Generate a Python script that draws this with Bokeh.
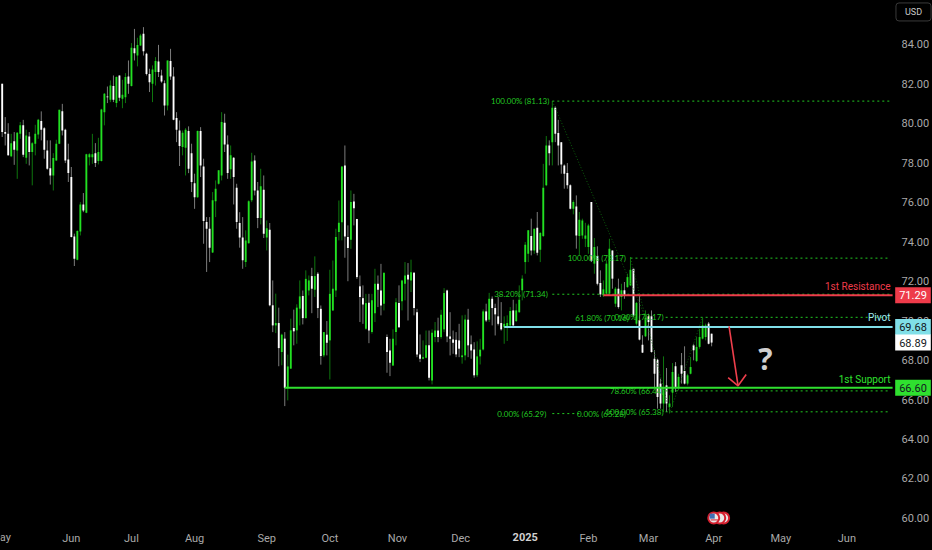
from bokeh.plotting import figure
from bokeh.models import ColumnDataSource, FixedTicker, Label, NumeralTickFormatter
from bokeh.core.properties import value
from bokeh.embed import file_html
from bokeh.resources import INLINE

open_prices = [82.01,79.56,79.47,78.33,79.09,78.63,79.47,79.9,78.26,79.34,
78.55,78.97,79.44,80.12,79.76,78.63,77.73,77.36,78.12,78.97,
80.61,79.68,78.17,77.28,74.27,73.09,74.52,75.89,75.47,78.29,
78.29,78.49,78.09,78.09,80.57,81.37,81.2,81.89,81.03,82.43,
81.25,81.33,82.38,81.89,83.81,83.44,83.95,84.54,83.53,82.51,
82.01,82.6,83.14,82.43,82.04,80.91,83.16,82.38,80.28,79.64,
78.8,78.76,79.61,78.49,76.97,76.26,79.61,77.82,75.0,74.66,
73.45,76.05,76.94,77.36,80.03,78.93,77.67,78.26,76.74,74.95,
74.21,72.97,73.93,76.1,78.12,76.6,75.2,76.64,74.21,74.61,
70.78,69.76,69.88,68.41,69.09,66.6,67.57,69.63,69.51,70.61,
71.25,70.13,71.53,72.26,71.57,72.38,70.6,68.24,69.29,69.0,
70.52,71.53,74.49,74.99,77.87,74.24,74.1,76.04,75.16,71.74,
71.14,69.59,70.91,69.42,70.38,71.87,71.53,70.86,69.17,68.49,
67.73,69.42,70.89,70.99,71.87,72.33,72.04,72.43,70.43,68.29,
68.07,68.12,68.75,66.97,69.17,69.5,69.17,69.56,71.53,69.2,
69.05,69.03,69.0,68.15,68.24,70.05,68.8,68.54,67.23,68.19,
68.54,70.47,70.05,71.11,70.64,70.22,69.88,69.67,69.67,69.76,
70.52,69.98,70.43,71.54,72.97,73.39,74.29,73.56,74.71,73.6,
74.29,76.86,78.88,79.05,80.79,79.51,79.05,77.87,77.48,76.86,
75.67,75.79,74.29,74.32,74.15,73.73,76.01,72.89,73.28,71.91,
71.28,71.37,71.37,73.56,70.86,71.62,71.2,71.54,71.7,71.79,
72.63,69.85,70.02,68.78,69.21,70.22,70.22,68.07,68.02,66.81,
65.8,66.72,65.63,66.35,67.69,66.64,67.74,67.45,66.81,67.31,
68.75,67.96,68.67,69.09,69.17,69.85,69.34]

close_prices = [79.56,79.47,78.38,79.0,78.66,79.52,79.9,78.41,79.39,78.55,
79.0,79.47,80.18,79.68,78.66,77.7,77.36,78.24,78.97,80.69,
79.64,78.12,77.48,74.24,73.14,74.54,75.89,75.59,78.43,78.43,
78.43,77.99,78.55,80.71,81.5,81.33,81.92,81.2,82.35,81.3,
81.45,82.35,82.01,83.83,83.56,83.98,84.46,83.66,82.51,82.09,
82.73,83.16,82.6,82.13,80.91,83.19,82.38,80.18,79.68,78.85,
79.52,79.68,77.7,77.03,76.26,79.61,77.87,75.05,74.66,73.7,
76.1,76.69,77.62,80.07,78.93,77.48,78.38,77.28,75.0,74.21,
73.06,74.07,76.05,78.07,76.6,75.2,76.82,74.41,74.69,70.78,
69.76,69.88,68.61,69.29,66.6,67.68,69.51,69.46,70.66,71.23,
70.13,72.12,72.04,71.62,72.26,70.64,68.21,69.42,68.88,71.36,
71.62,74.24,74.96,77.82,74.27,73.69,76.01,75.7,72.21,71.2,
70.82,70.89,69.5,71.03,71.87,71.57,70.77,72.43,68.41,67.87,
69.08,70.94,69.67,72.04,72.29,72.09,72.46,70.64,68.29,68.07,
68.15,68.75,67.11,69.39,69.5,69.17,70.3,71.4,69.2,69.08,
68.88,68.29,68.58,68.24,70.06,68.75,68.49,67.23,68.19,68.53,
70.47,70.01,71.11,70.64,70.32,69.84,69.56,69.84,69.88,70.49,
69.76,70.52,71.06,72.13,73.85,74.58,73.56,74.66,73.44,74.44,
76.74,78.88,78.49,80.79,79.47,78.88,77.92,77.45,76.86,75.67,
76.01,74.32,75.12,75.08,74.32,74.83,73.02,73.73,71.87,71.33,
71.59,72.89,73.65,72.13,71.62,70.69,71.54,71.28,72.21,72.58,
70.27,70.9,69.04,68.38,70.15,69.93,68.41,67.31,66.13,65.8,
66.64,65.8,65.8,67.4,66.64,67.15,67.31,66.81,67.23,67.65,
68.5,68.67,69.17,69.76,69.76,68.83,68.89]

high_prices = [82.01,80.32,80.01,79.47,79.56,79.56,80.07,80.18,79.68,79.56,
79.05,79.93,80.23,80.61,79.81,79.14,79.14,78.49,79.17,80.69,
80.99,79.73,78.97,77.79,74.41,74.58,76.01,76.47,78.46,78.49,
79.47,79.0,79.27,80.74,81.54,81.87,82.18,82.43,82.38,82.43,
82.21,82.55,83.19,84.07,84.79,84.34,84.54,84.88,83.58,82.77,
82.94,83.36,83.98,82.72,82.18,83.19,83.78,82.85,80.57,80.15,
79.64,79.76,79.85,78.97,77.45,79.64,79.81,78.21,75.25,75.25,
76.52,77.11,77.62,80.57,80.49,79.39,78.88,78.29,76.94,75.5,
75.25,74.58,76.1,78.51,78.38,77.03,77.7,77.36,75.08,74.95,
72.04,71.37,70.66,69.34,69.42,68.28,70.1,70.56,70.83,72.04,
71.53,72.55,72.29,72.68,73.26,72.46,70.77,69.42,69.98,72.58,
73.05,74.66,76.09,77.82,78.88,74.83,76.6,76.43,75.16,72.29,
71.79,71.36,71.36,71.36,72.63,72.29,72.88,72.43,69.3,69.08,
69.56,71.14,71.79,72.07,72.97,72.92,73.09,72.46,70.6,69.3,
69.0,69.5,69.5,69.56,69.93,70.15,70.55,71.65,71.57,70.43,
69.5,69.42,69.84,70.27,70.3,70.6,69.25,68.91,68.95,69.08,
70.57,70.86,71.41,71.23,70.86,71.2,70.94,70.22,70.27,70.69,
71.06,70.86,71.79,72.3,73.99,74.58,75.17,74.66,75.51,74.49,
77.95,79.36,79.14,81.13,80.86,80.18,79.05,77.92,77.99,76.91,
76.1,76.35,75.51,75.17,74.96,74.91,76.01,74.19,73.77,72.55,
72.04,73.06,74.15,73.56,71.7,72.13,71.87,71.96,72.38,73.23,
72.63,70.95,71.28,69.26,70.52,70.35,70.52,68.5,68.07,67.06,
68.19,67.6,66.22,67.85,67.9,67.31,68.36,68.7,67.31,68.16,
68.83,69.17,69.59,70.15,69.85,69.93,69.34]

low_prices = [79.31,78.88,78.36,78.29,77.9,77.19,79.22,78.29,77.95,77.87,
76.86,78.38,79.22,79.14,78.21,77.65,76.9,76.6,78.1,78.95,
79.39,77.99,77.03,74.22,72.77,73.06,74.32,75.5,75.45,77.87,
77.95,77.79,77.92,78.07,79.9,81.03,81.08,81.08,80.82,81.13,
80.77,81.03,81.5,81.87,83.19,82.89,83.93,83.44,82.43,81.59,
81.08,81.92,82.35,82.06,80.4,80.66,82.21,80.16,79.05,77.84,
78.38,77.36,77.48,76.52,75.67,76.23,77.28,73.9,72.47,72.97,
73.43,75.25,76.9,77.11,78.55,77.19,77.19,75.89,74.66,73.7,
72.63,72.72,73.91,76.01,76.35,74.69,74.88,74.19,73.56,70.73,
69.42,69.37,67.69,67.74,65.67,65.96,67.55,68.75,68.83,69.76,
69.81,70.11,71.28,70.38,71.2,70.13,67.77,68.15,68.24,67.02,
70.49,71.2,74.07,74.07,73.19,72.0,73.64,74.83,72.12,69.93,
69.84,69.54,68.86,69.34,69.93,70.69,70.27,70.52,67.36,67.19,
67.7,68.75,69.64,70.52,71.03,70.01,71.45,70.27,68.15,67.9,
68.04,68.09,66.97,66.77,68.91,68.91,69.08,69.42,68.91,68.24,
68.32,68.15,68.15,67.82,67.99,68.15,68.07,67.11,67.14,67.78,
68.49,69.93,69.93,69.76,69.25,69.76,69.5,68.83,68.97,69.73,
69.67,69.93,70.4,71.03,72.38,72.97,73.31,73.39,73.31,72.97,
74.24,76.82,77.87,77.87,79.05,77.87,77.45,76.69,76.69,75.64,
75.39,73.65,73.31,74.15,73.73,73.39,72.97,72.38,71.79,71.2,
71.2,71.28,71.28,71.62,70.69,70.61,70.52,71.11,71.67,71.76,
70.19,69.76,69.0,68.36,69.17,69.0,68.38,66.64,65.54,65.54,
65.37,65.37,65.32,65.63,66.39,66.47,66.81,66.77,66.72,67.28,
67.99,67.9,68.58,69.05,69.0,68.8,68.7]

month_ticks = [23, 43, 64, 88, 109, 131.5, 152.5, 174, 195, 215, 236.7, 259, 281]
month_labels = ["Jun", "Jul", "Aug", "Sep", "Oct", "Nov", "Dec", "2025", "Feb", "Mar", "Apr", "May", "Jun"]
price_ticks = [60, 62, 64, 66, 68, 70, 72, 74, 76, 78, 80, 82, 84]

fib_level_prices = [81.13, 71.34, 73.17, 70.17, 66.44, 65.38, 65.29]
fib_level_starts = [183, 183, 209, 220.7, 220.7, 220.7, 183]
fib_level_ends = [295.5, 295.5, 295.5, 295.5, 295.5, 295.5, 193]

fib_text = ["100.00% (81.13)", "38.20% (71.34)", "100.00% (73.17)", "61.80% (70.16)", "0.00% (70.17)",
            "78.60% (66.44)", "100.00% (65.38)", "0.00% (65.29)", "0.00% (65.28)"]
fib_text_x = [182, 181.5, 207.5, 208.5, 220, 220, 220, 181, 207.5]
fib_text_y = [81.13, 71.34, 73.17, 70.16, 70.17, 66.44, 65.38, 65.29, 65.28]

trend_x = [[183, 214], [209, 222], [222, 233]]
trend_y = [[81.13, 70.17], [73.17, 65.38], [65.29, 70.17]]

resistance, pivot, support, last_price = 71.29, 69.68, 66.60, 68.89
resistance_start, pivot_start, support_start, zone_end = 200, 167, 94, 296.2

arrow_x = [[241.8, 244.8], [241.5, 244.8, 247.5]]
arrow_y = [[69.71, 66.70], [67.11, 66.70, 67.27]]

flag_x = [240, 238.7, 236.7]
flag_price = 60.0

UI = "Roboto"
GREEN, WHITE = "#22e022", "#ffffff"
FIB = "#22c822"

p = figure(width=932, height=550, output_backend="svg", toolbar_location=None,
           x_range=(-0.566, 309.48), y_range=(58.35, 86.23), y_axis_location="right",
           background_fill_color="#000000", border_fill_color="#000000",
           outline_line_color=None, min_border_left=0, min_border_top=0,
           min_border_right=0, min_border_bottom=0)
p.grid.visible = False

xa = p.xaxis[0]
xa.ticker = FixedTicker(ticks=month_ticks)
overrides = {t: l for t, l in zip(month_ticks, month_labels)}
overrides[174] = ""
xa.major_label_overrides = overrides
xa.fixed_location = 59.51
ya = p.yaxis[0]
ya.ticker = FixedTicker(ticks=price_ticks)
ya.formatter = NumeralTickFormatter(format="0.00")
ya.fixed_location = 296.2
for ax in (xa, ya):
    ax.axis_line_color = None
    ax.major_tick_line_color = None
    ax.minor_tick_line_color = None
    ax.major_tick_out = 0
    ax.major_tick_in = 0
    ax.minor_tick_out = 0
    ax.major_label_text_color = "#a9a9a9"
    ax.major_label_text_font = UI
    ax.major_label_text_font_size = "11px"
xa.major_label_standoff = 4
ya.major_label_standoff = 9

bars = list(range(len(open_prices)))
assert len(open_prices) == len(close_prices) == len(high_prices) == len(low_prices)
for up, body_c, wick_c in ((False, WHITE, "#7c7c7c"), (True, GREEN, "#0e760e")):
    idx = [i for i in bars if (close_prices[i] >= open_prices[i]) == up]
    src = ColumnDataSource(dict(
        x=idx,
        o=[open_prices[i] for i in idx], c=[close_prices[i] for i in idx],
        h=[high_prices[i] for i in idx], l=[low_prices[i] for i in idx]))
    p.segment("x", "h", "x", "l", source=src, color=wick_c, line_width=1)
    p.vbar("x", 0.62, "o", "c", source=src, fill_color=body_c, line_color=None)

p.multi_line(trend_x, trend_y, line_color="#0d5f0d", line_width=1, line_dash="1 2")
p.segment(fib_level_starts, fib_level_prices, fib_level_ends, fib_level_prices,
          line_color=FIB, line_width=1, line_dash="2 3")
p.text(fib_text_x, fib_text_y, text=fib_text, text_color=FIB, text_align="right",
       text_baseline="middle", text_font=value("Lato"), text_font_size="8px")

p.segment([resistance_start], [resistance], [zone_end], [resistance], line_color="#ee3b4a", line_width=2)
p.segment([pivot_start], [pivot], [zone_end], [pivot], line_color="#80dfe8", line_width=2)
p.segment([support_start], [support], [zone_end], [support], line_color="#2fe02f", line_width=2)

p.multi_line(arrow_x, arrow_y, line_color="#ef3f4c", line_width=1.6)

# economic-event flags
p.scatter(flag_x, [flag_price] * 3, size=11, marker="circle", fill_color="#e8e8e8",
          line_color="#d5202f", line_width=2)
p.scatter([flag_x[-1] - 0.5], [flag_price + 0.09], size=5, marker="square", fill_color="#3f6fb5", line_color=None)
p.scatter([flag_x[-1] + 0.3], [flag_price - 0.1], size=8, marker="dash", line_color="#d5202f", line_width=1)

def tag(text, price, bg, fg):
    p.add_layout(Label(x=912.5, y=price, x_units="screen", y_units="data", text=text,
                       text_align="center", text_baseline="middle", text_color=fg,
                       text_font=UI, text_font_size="11px",
                       background_fill_color=bg, padding=(4, 4)))

def side(text, price, color):
    p.add_layout(Label(x=890, y=price, x_units="screen", y_units="data", text=text,
                       text_align="right", text_baseline="middle", text_color=color,
                       text_font=UI, text_font_size="10px"))

side("1st Resistance", 71.72, "#ee3b4a")
side("Pivot", 70.16, "#9feaf0")
side("1st Support", 67.02, "#2fe02f")
tag("71.29", resistance, "#ee3b4a", "#ffffff")
tag("69.68", pivot, "#80dfe8", "#131722")
tag("68.89", last_price, "#ffffff", "#131722")
tag("66.60", support, "#2fe02f", "#131722")

p.add_layout(Label(x=913, y=85.65, x_units="screen", y_units="data", text="USD",
                   text_align="center", text_baseline="middle", text_color="#c8c8c8",
                   text_font=UI, text_font_size="9px", border_line_color="#3a3a3a",
                   background_fill_color="#000000", padding=(9, 4), border_radius=3))
p.add_layout(Label(x=174, y=59.01, x_units="data", y_units="data", text="2025",
                   text_align="center", text_baseline="middle", text_color="#d0d0d0",
                   text_font=UI, text_font_size="11px", text_font_style="bold"))
p.add_layout(Label(x=0, y=59.01, x_units="screen", y_units="data", text="May",
                   text_align="center", text_baseline="middle", text_color="#a9a9a9",
                   text_font=UI, text_font_size="11px"))
p.add_layout(Label(x=765, y=68.1, x_units="screen", y_units="data", text="?",
                   text_align="center", text_baseline="middle", text_color="#cfcfcf",
                   text_font="Open Sans", text_font_size="30px", text_font_style="bold"))

html = file_html(p, INLINE)
html = html.replace("<head>", "<head><style>html,body{margin:0;padding:0;background:#000;overflow:hidden}</style>", 1)
open("out.html", "w").write(html)
